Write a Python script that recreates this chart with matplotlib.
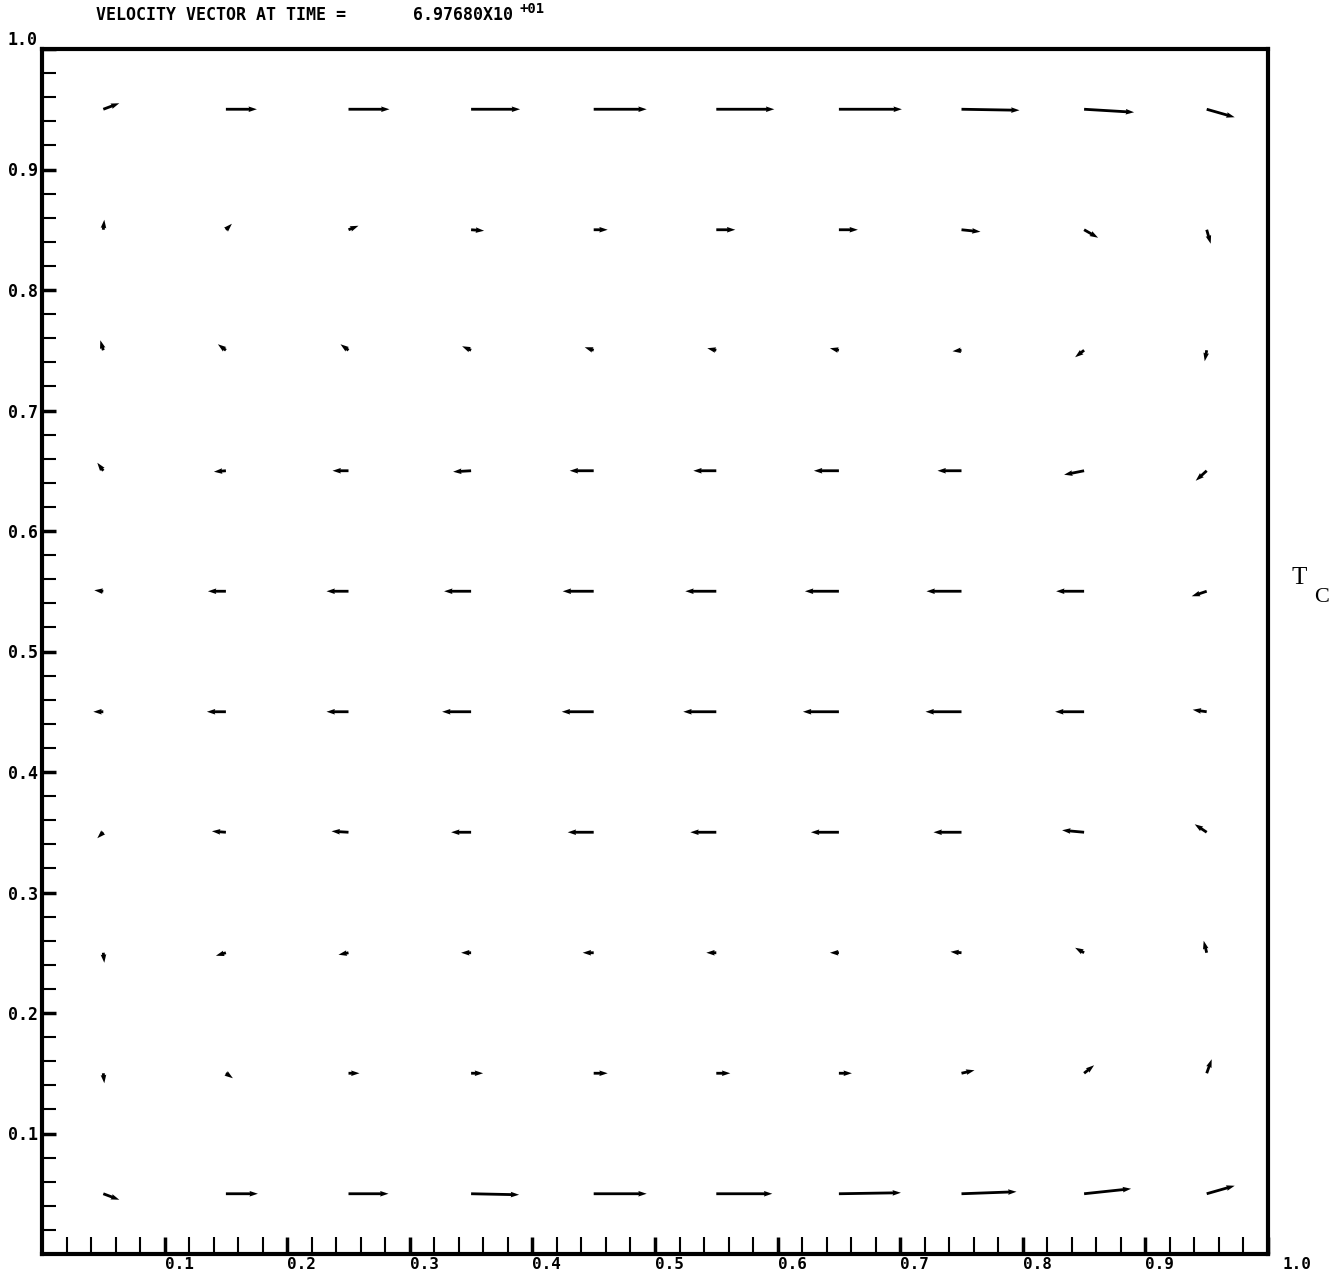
import matplotlib
matplotlib.use("Agg")
import matplotlib.pyplot as plt
import numpy as np
import matplotlib.ticker as ticker
from matplotlib.transforms import ScaledTranslation

# grid of the vector tails (cell centres)
x_cols = [0.05, 0.15, 0.25, 0.35, 0.45, 0.55, 0.65, 0.75, 0.85, 0.95]
y_rows = [0.95, 0.85, 0.75, 0.65, 0.55, 0.45, 0.35, 0.25, 0.15, 0.05]

# velocity components (one list per row, top to bottom)
u_rows = [
    [16, 31, 41, 49, 53, 58, 63, 58, 50, 28],
    [1, 6, 10, 13, 14, 19, 19, 19, 14, 4],
    [-3, -8, -8, -9, -9, -9, -9, -9, -9, -2],
    [-6, -12, -16, -18, -24, -23, -25, -24, -20, -11],
    [-9, -18, -22, -27, -31, -31, -34, -35, -28, -15],
    [-10, -19, -22, -29, -32, -33, -36, -36, -29, -14],
    [-6, -14, -17, -20, -26, -26, -28, -28, -22, -12],
    [1, -10, -10, -10, -11, -10, -9, -11, -9, -3],
    [1, 7, 11, 12, 14, 14, 13, 13, 10, 5],
    [16, 32, 40, 48, 53, 56, 62, 55, 47, 28],
]
v_rows = [
    [6, 0, 0, 0, 0, 0, 0, -1, -3, -8],
    [10, 6, 4, -1, 0, 0, 0, -2, -8, -14],
    [10, 6, 6, 4, 3, 2, 2, -1, -7, -11],
    [8, -1, 0, -1, 0, 0, 0, 0, -4, -10],
    [1, 0, 0, 0, 0, 0, 0, 0, 0, -5],
    [0, 0, 0, 0, 0, 0, 0, 0, 0, 2],
    [-6, 1, 1, 0, 0, 0, 0, 0, 2, 8],
    [-10, -3, -2, 0, 0, 0, 0, 1, 5, 12],
    [-10, -5, 0, 0, 0, 0, 0, 3, 8, 14],
    [-6, 0, 0, -1, 0, 0, 1, 2, 5, 8],
]

tick_vals = [0.1, 0.2, 0.3, 0.4, 0.5, 0.6, 0.7, 0.8, 0.9, 1.0]
tick_txt = ['0.1', '0.2', '0.3', '0.4', '0.5', '0.6', '0.7', '0.8', '0.9', '1.0']

time_txt = "6.97680X10"
time_exp = "+01"

W, H = 1336, 1277
fig = plt.figure("Velocity vector", figsize=(W / 100, H / 100), dpi=100)
ax = fig.add_axes([42 / W, 23 / H, 1226 / W, 1205 / H])

X, Y = np.meshgrid(x_cols, y_rows)
# vecteurs : trait épais, petite tête à peine plus large que le trait
ax.quiver(X, Y, np.array(u_rows), np.array(v_rows), pivot='tail',
          units='dots', angles='uv', scale_units='dots', scale=1,
          width=2.8, headwidth=2.0, headlength=3.0, headaxislength=2.8,
          minlength=0.5, color='black')

ax.set_xlim(0, 1)
ax.set_ylim(0, 1)
for s in ax.spines.values():
    s.set_linewidth(3)

mono = dict(family='DejaVu Sans Mono', weight='bold')

ax.xaxis.set_major_locator(ticker.FixedLocator(tick_vals))
ax.yaxis.set_major_locator(ticker.FixedLocator(tick_vals))
ax.xaxis.set_major_formatter(ticker.FixedFormatter(tick_txt))
ax.yaxis.set_major_formatter(ticker.FixedFormatter(tick_txt))
ax.xaxis.set_minor_locator(ticker.MultipleLocator(0.02))
ax.yaxis.set_minor_locator(ticker.MultipleLocator(0.02))
ax.tick_params(which='both', direction='in', top=False, right=False)
ax.tick_params(axis='x', which='both', length=12)
ax.tick_params(axis='y', which='both', length=10)
ax.tick_params(which='major', width=2.5)
ax.tick_params(which='minor', width=1.5)
ax.tick_params(axis='x', pad=2)
ax.tick_params(axis='y', pad=3)
xlabs = ax.get_xticklabels()
for lab in xlabs:
    lab.set_ha('left')
    lab.set(**mono, fontsize=11.5)
# le "1.0" est un peu décalé à droite du cadre
xlabs[-1].set_transform(xlabs[-1].get_transform() + ScaledTranslation(14 / 100, 0, fig.dpi_scale_trans))
ylabs = ax.get_yticklabels()
for lab in ylabs:
    lab.set(**mono, fontsize=12)
ylabs[-1].set_va('bottom')

# titre et valeur du temps
fig.text(96 / W, 1 - 15 / H, "VELOCITY VECTOR AT TIME =", ha='left', va='center', fontsize=12, **mono)
fig.text(413 / W, 1 - 15 / H, time_txt, ha='left', va='center', fontsize=12, **mono)
fig.text(520 / W, 1 - 9 / H, time_exp, ha='left', va='center', fontsize=10, **mono)

# label T_C on the right wall
fig.text(1291 / W, 1 - 578 / H, "T", ha='left', va='center', fontsize=18, family='Liberation Serif')
fig.text(1314 / W, 1 - 597 / H, "C", ha='left', va='center', fontsize=16, family='Liberation Serif')

fig.savefig("out.png", dpi=100, facecolor='white')
